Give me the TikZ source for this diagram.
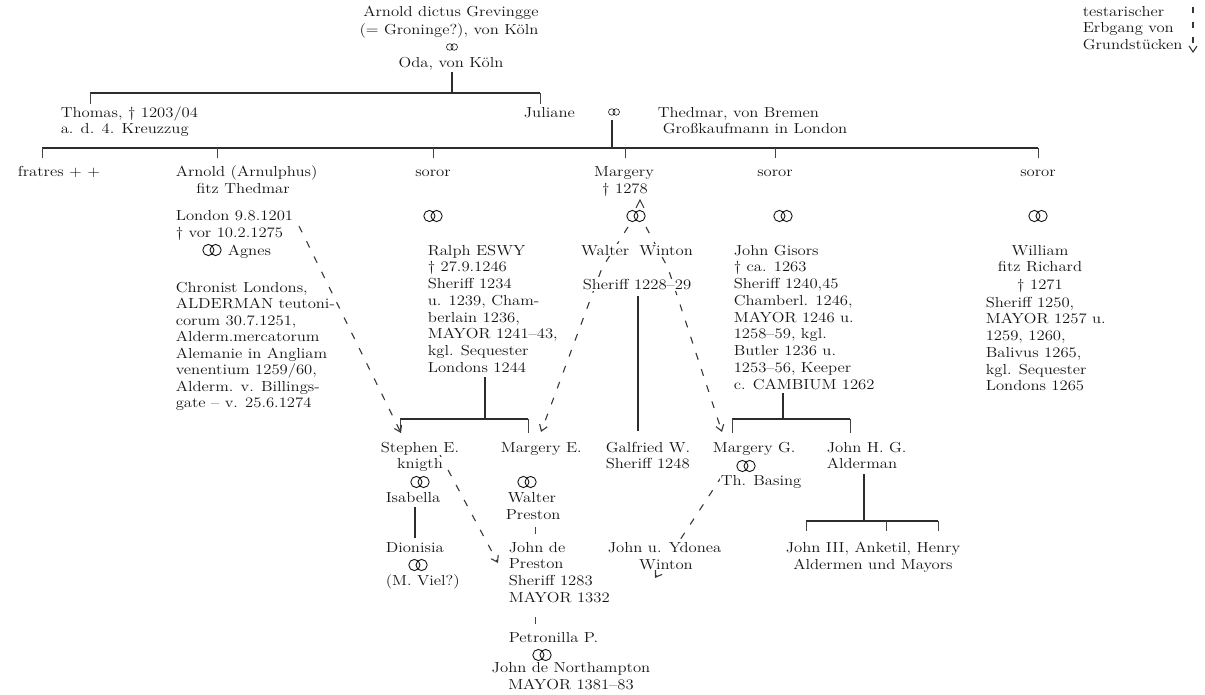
\documentclass[tikz,border=0pt]{standalone}
\usepackage{fontspec}
\usetikzlibrary{arrows.meta}
\pgfdeclarelayer{bg}
\pgfsetlayers{bg,main}
\newcommand\fs{\fontsize{14.5}{16.5}\selectfont}
\newcommand\sx[1]{\scalebox{1.15}[1]{#1}}
\definecolor{ink}{HTML}{141414}
\tikzset{
  t/.style={font=\fs, text=ink, inner sep=0.6pt, fill=white, anchor=base west},
  tc/.style={t, anchor=base},
  ln/.style={line width=1.1pt, draw=ink!90},
  tk/.style={line width=0.8pt, draw=ink!80},
  inh/.style={line width=1.1pt, draw=ink!85, dash pattern=on 7pt off 10pt, -{Straight Barb[length=6pt,width=8pt]}},
  marr/.pic={\draw[line width=0.9pt, draw=ink] (-3.6pt,0) circle (5.6pt) (3.6pt,0) circle (5.6pt);},
  marrs/.pic={\draw[line width=0.6pt, draw=ink] (-2.2pt,0) circle (3.3pt) (2.2pt,0) circle (3.3pt);}
}
\begin{document}
\begin{tikzpicture}[x=1pt,y=-1pt]
\useasboundingbox (0,0) rectangle (1205,695);
% ---------- top ----------
\node[tc] (arn0) at (451,17) {\sx{Arnold dictus Grevingge}};
\node[tc] (arn0b) at (449,35) {\sx{(= Groninge?), von Köln}};
\pic at (452,47) {marrs};
\node[tc] (oda) at (451,68) {\sx{Oda, von Köln}};
\coordinate (bar1) at (452,93);
\begin{pgfonlayer}{bg}
\draw[ln] (452,72) -- (bar1);
\draw[ln] (90,93) -- (540,93);
\draw[tk] (90,93) -- (90,104) (540,93) -- (540,104);
\end{pgfonlayer}
% legend
\node[t] (lg1) at (1082,17) {\sx{testarischer}};
\node[t] (lg2) at (1082,33) {\sx{Erbgang von}};
\node[t] (lg3) at (1082,50) {\sx{Grundstücken}};
\coordinate (lga) at (1193,7);
\coordinate (lgb) at (1193,53);
\draw[inh, dash pattern=on 6pt off 9pt] (lga) -- (lgb);
% ---------- row 2 ----------
\node[t] (thomas) at (60,118) {\sx{Thomas, † 1203/04}};
\node[t] (thomasb) at (60,134) {\sx{a. d. 4. Kreuzzug}};
\node[t] (juliane) at (523,118) {\sx{Juliane}};
\pic at (614,112) {marrs};
\node[t] (thed) at (657,118) {\sx{Thedmar, von Bremen}};
\node[t] (thedb) at (662,134) {\sx{Großkaufmann in London}};
\begin{pgfonlayer}{bg}
\draw[ln] (612,120) -- (612,148);
\draw[ln] (42,148) -- (1038,148);
\foreach \x in {42,217,433,625,775,1038} \draw[tk] (\x,148) -- (\x,158);
\end{pgfonlayer}
% ---------- row 3 ----------
\node[t] (fratres) at (17,177) {\sx{fratres + +}};
\node[t] (arnold) at (175,177) {\sx{Arnold (Arnulphus)}};
\node[tc] (arnoldb) at (243,194) {\sx{fitz Thedmar}};
\node[tc] (soror1) at (433,177) {\sx{soror}};
\node[tc] (margery) at (624,177) {\sx{Margery}};
\node[tc] (marg2) at (625,194) {\sx{† 1278}};
\node[tc] (soror2) at (775,177) {\sx{soror}};
\node[tc] (soror3) at (1038,177) {\sx{soror}};
% ---------- row 4 ----------
\node[t] (lon1) at (175,221) {\sx{London 9.8.1201}};
\node[t] (lon2) at (175,237) {\sx{† vor 10.2.1275}};
\pic at (212,250) {marr};
\node[t] (agnes) at (227,255) {\sx{Agnes}};
\pic at (433,216) {marr};
\pic at (636,216) {marr};
\pic at (783,216) {marr};
\pic at (1038,216) {marr};
\foreach \s [count=\i from 0] in {{Chronist Londons,},{ALDERMAN teutoni-},{corum 30.7.1251,},{Alderm.mercatorum},{Alemanie in Angliam},{venentium 1259/60,},{Alderm. v. Billings-},{gate -- v. 25.6.1274}}
  \node[t, name=chr\i] at (175,292+16.5*\i) {\sx{\s}};
\foreach \s [count=\i from 0] in {{Ralph ESWY},{† 27.9.1246},{Sheriff 1234},{u. 1239, Cham-},{berlain 1236,},{MAYOR 1241--43,},{kgl. Sequester},{Londons 1244}}
  \node[t, name=ral\i] at (427,255+16.75*\i) {\sx{\s}};
\node[tc] (walter) at (637,255) {\sx{Walter\hspace{4pt} Winton}};
\node[tc] (walterb) at (637,290) {\sx{Sheriff 1228--29}};
\foreach \s [count=\i from 0] in {{John Gisors},{† ca. 1263},{Sheriff 1240,45},{Chamberl. 1246,},{MAYOR 1246 u.},{1258--59, kgl.},{Butler 1236 u.},{1253--56, Keeper},{c. CAMBIUM 1262}}
  \node[t, name=gis\i] at (733,255+16.75*\i) {\sx{\s}};
\node[tc] (wil0) at (1040,255) {\sx{William}};
\node[tc] (wil1) at (1040,272) {\sx{fitz Richard}};
\node[tc] (wil2) at (1040,290) {\sx{† 1271}};
\foreach \s [count=\i from 0] in {{Sheriff 1250,},{MAYOR 1257 u.},{1259, 1260,},{Balivus 1265,},{kgl. Sequester},{Londons 1265}}
  \node[t, name=wl\i] at (985,307+16.75*\i) {\sx{\s}};
% ---------- lower ----------
\node[tc] (steph) at (420,452) {\sx{Stephen E.}};
\node[tc] (stephb) at (420,468) {\sx{knigth}};
\pic at (420,482) {marr};
\node[t] (isab) at (385,502) {\sx{Isabella}};
\node[t] (dion) at (385,552) {\sx{Dionisia}};
\pic at (418,565) {marr};
\node[t] (viel) at (385,585) {\sx{(M. Viel?)}};
\node[t] (marE) at (500,452) {\sx{Margery E.}};
\pic at (527,482) {marr};
\node[t] (wp1) at (507,502) {\sx{Walter}};
\node[t] (wp2) at (505,519) {\sx{Preston}};
\foreach \s [count=\i from 0] in {{John de},{Preston},{Sheriff 1283},{MAYOR 1332}}
  \node[t, name=jp\i] at (508,552+16.75*\i) {\sx{\s}};
\node[t] (petr) at (508,642) {\sx{Petronilla P.}};
\pic at (542,655) {marr};
\node[tc] (north) at (571,672) {\sx{John de Northampton}};
\node[tc] (northb) at (571,689) {\sx{MAYOR 1381--83}};
\node[t] (galf) at (605,452) {\sx{Galfried W.}};
\node[t] (galfb) at (605,468) {\sx{Sheriff 1248}};
\node[t] (marG) at (712,452) {\sx{Margery G.}};
\pic at (746,466) {marr};
\node[t] (basing) at (720,485) {\sx{Th. Basing}};
\node[t] (jhg) at (826,452) {\sx{John H. G.}};
\node[t] (jhgb) at (826,468) {\sx{Alderman}};
\node[tc] (j3) at (873,552) {\sx{John III, Anketil, Henry}};
\node[tc] (j3b) at (873,569) {\sx{Aldermen und Mayors}};
\node[t] (ydon) at (607,552) {\sx{John u. Ydonea}};
\node[tc] (ydonb) at (666,569) {\sx{Winton}};
\begin{pgfonlayer}{bg}
% Eswy family
\draw[ln] (485,377) -- (485,419);
\draw[ln] (400,419) -- (528,419);
\draw[tk] (400,419) -- (400,433) (528,419) -- (528,433);
\draw[ln] (415,507) -- (415,538);
\draw[tk] (535,527) -- (535,534);
\draw[tk] (535,617) -- (535,624);
% Winton
\draw[ln] (638,296) -- (638,431);
% Gisors family
\draw[ln] (783,393) -- (783,419);
\draw[ln] (732,419) -- (850,419);
\draw[tk] (732,419) -- (732,433) (850,419) -- (850,433);
\draw[ln] (864,474) -- (864,521);
\draw[ln] (806,521) -- (938,521);
\draw[tk] (806,521) -- (806,531) (886,521) -- (886,531) (938,521) -- (938,531);
% inheritance
\draw[inh] (299,226) -- (401,433);
\draw[line width=1pt, draw=ink!85] (636,208) -- (640,200) -- (644,208);
\draw[inh] (628,227) -- (602,268) -- (541,432);
\draw[inh] (646,227) -- (668,268) -- (722,432);
\draw[inh] (440,455) -- (498,563);
\draw[inh] (722,476) -- (655,578);
\end{pgfonlayer}
\end{tikzpicture}
\end{document}
